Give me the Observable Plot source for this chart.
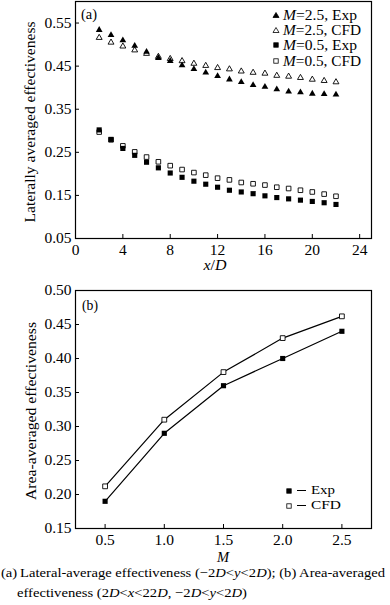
<!DOCTYPE html>
<html><head><meta charset="utf-8">
<script src="https://cdn.jsdelivr.net/npm/d3@7"></script>
<script src="https://cdn.jsdelivr.net/npm/@observablehq/plot@0.6"></script>
<style>
body{margin:0;background:#fff;font-family:"Liberation Serif","Times New Roman",serif;}
#wrap{position:relative;width:390px;height:605px;overflow:hidden;}
.abs{position:absolute;white-space:nowrap;color:#000;line-height:0.85;}
</style></head>
<body><div id="wrap"></div>
<script>
// ---- data (a): laterally averaged effectiveness vs x/D
const xD = [2,3,4,5,6,7,8,9,10,11,12,13,14,15,16,17,18,19,20,21,22];
const m25Exp = [0.534,0.522,0.510,0.497,0.483,0.469,0.462,0.452,0.443,0.435,0.427,0.419,0.413,0.406,0.402,0.396,0.391,0.389,0.386,0.385,0.384];
const m25CFD = [0.516,0.505,0.496,0.487,0.479,0.472,0.467,0.462,0.456,0.451,0.446,0.443,0.438,0.435,0.433,0.428,0.426,0.423,0.419,0.416,0.413];
const m05Exp = [0.302,0.280,0.259,0.243,0.227,0.214,0.202,0.192,0.183,0.176,0.169,0.162,0.158,0.154,0.149,0.145,0.142,0.139,0.136,0.133,0.129];
const m05CFD = [0.297,0.279,0.265,0.251,0.239,0.228,0.219,0.210,0.203,0.197,0.190,0.186,0.180,0.177,0.174,0.169,0.166,0.162,0.158,0.153,0.148];
const xTicksA = [0,4,8,12,16,20,24];
const yTicksA = [0.05,0.15,0.25,0.35,0.45,0.55];
// ---- data (b): area-averaged effectiveness vs M
const mVals = [0.5,1.0,1.5,2.0,2.5];
const areaExp = [0.19,0.29,0.36,0.40,0.44];
const areaCFD = [0.212,0.31,0.38,0.43,0.462];
const xTicksB = [0.5,1.0,1.5,2.0,2.5];
const yTicksB = [0.15,0.20,0.25,0.30,0.35,0.40,0.45,0.50];

const wrap = document.getElementById("wrap");
const FONT = "Liberation Serif";
const TICKFS = 15.5;

function toRows(xs, ys){ return xs.map((x,i)=>({x, y: ys[i]})); }

// ---------- Chart (a)
const hA = 275, mtA = 1, mbA = 37, mlA = 75, mrA = 19;
const plotHA = hA - mtA - mbA, plotWA = 390 - mlA - mrA;
const chartA = Plot.plot({
  width: 390, height: hA,
  marginTop: mtA, marginBottom: mbA, marginLeft: mlA, marginRight: mrA,
  style: {fontFamily: FONT, fontSize: TICKFS + "px", color: "#000", background: "#fff", overflow: "visible"},
  x: {domain: [0, 25]},
  y: {domain: [0.05, 0.6]},
  marks: [
    Plot.axisX({ticks: xTicksA, tickSize: 0, tickPadding: 5, tickFormat: d=>String(d), label: null, fontSize: TICKFS}),
    Plot.axisY({ticks: yTicksA, tickSize: 0, tickPadding: 4, tickFormat: d3.format(".2f"), label: null, fontSize: TICKFS}),
    Plot.tickX(xTicksA.filter(d=>d>0), {x: d=>d, stroke: "#000", strokeWidth: 1, insetTop: plotHA - 4}),
    Plot.tickY(yTicksA.filter(d=>d>0.05), {y: d=>d, stroke: "#000", strokeWidth: 1, insetRight: plotWA - 4}),
    Plot.dot(toRows(xD, m05CFD), {x:"x", y:"y", symbol:"square", r:2.6, fill:"#fff", stroke:"#000", strokeWidth:0.9}),
    Plot.dot(toRows(xD, m05Exp), {x:"x", y:"y", symbol:"square", r:2.9, fill:"#000", stroke:"none"}),
    Plot.dot(toRows(xD, m25CFD), {x:"x", y:"y", symbol:"triangle", r:2.2, fill:"#fff", stroke:"#000", strokeWidth:0.9}),
    Plot.dot(toRows(xD, m25Exp), {x:"x", y:"y", symbol:"triangle", r:2.5, fill:"#000", stroke:"none"}),
    Plot.frame({stroke: "#000", strokeWidth: 1.2})
  ]
});
chartA.style.position = "absolute"; chartA.style.left = "0px"; chartA.style.top = "0px";
wrap.appendChild(chartA);

// ---------- Chart (b)
const topB = 275, hB = 290, mtB = 15, mbB = 37, mlB = 75, mrB = 19;
const plotHB = hB - mtB - mbB, plotWB = 390 - mlB - mrB;
const chartB = Plot.plot({
  width: 390, height: hB,
  marginTop: mtB, marginBottom: mbB, marginLeft: mlB, marginRight: mrB,
  style: {fontFamily: FONT, fontSize: TICKFS + "px", color: "#000", background: "transparent", overflow: "visible"},
  x: {domain: [0.25, 2.75]},
  y: {domain: [0.15, 0.5]},
  marks: [
    Plot.axisX({ticks: xTicksB, tickSize: 0, tickPadding: 5, tickFormat: d3.format(".1f"), label: null, fontSize: TICKFS}),
    Plot.axisY({ticks: yTicksB, tickSize: 0, tickPadding: 4, tickFormat: d3.format(".2f"), label: null, fontSize: TICKFS}),
    Plot.tickX(xTicksB, {x: d=>d, stroke: "#000", strokeWidth: 1, insetTop: plotHB - 4}),
    Plot.tickY(yTicksB.filter(d=>d>0.15 && d<0.5), {y: d=>d, stroke: "#000", strokeWidth: 1, insetRight: plotWB - 4}),
    Plot.line(toRows(mVals, areaCFD), {x:"x", y:"y", stroke:"#000", strokeWidth:1.2}),
    Plot.line(toRows(mVals, areaExp), {x:"x", y:"y", stroke:"#000", strokeWidth:1.2}),
    Plot.dot(toRows(mVals, areaCFD), {x:"x", y:"y", symbol:"square", r:2.7, fill:"#fff", stroke:"#000", strokeWidth:0.9}),
    Plot.dot(toRows(mVals, areaExp), {x:"x", y:"y", symbol:"square", r:2.9, fill:"#000", stroke:"none"}),
    Plot.frame({stroke: "#000", strokeWidth: 1.2})
  ]
});
chartB.style.position = "absolute"; chartB.style.left = "0px"; chartB.style.top = topB + "px";
wrap.appendChild(chartB);

// ---------- Text overlays (horizontally stretched to match the reference's text widths)
function add(html, opts){
  const d = document.createElement("div");
  d.className = "abs";
  d.innerHTML = html;
  d.style.fontSize = (opts.fs || 14) + "px";
  wrap.appendChild(d);
  const w = d.getBoundingClientRect().width;
  const s = opts.width ? opts.width / w : 1;
  if (opts.rotate) {
    d.style.left = opts.cx + "px"; d.style.top = opts.cy + "px";
    d.style.transform = `translate(-50%,-50%) rotate(-90deg) scaleX(${s})`;
  } else if (opts.cx !== undefined) {
    d.style.left = opts.cx + "px"; d.style.top = opts.cy + "px";
    d.style.transform = `translate(-50%,-50%) scaleX(${s})`;
  } else {
    d.style.left = opts.x + "px"; d.style.top = (opts.cy - d.getBoundingClientRect().height/2) + "px";
    d.style.transformOrigin = "0 50%";
    d.style.transform = `scaleX(${s})`;
  }
  return d;
}
const tri = (fill)=>`<svg width="8" height="8" style="position:absolute"><polygon points="4,1.5 7,6.5 1,6.5" fill="${fill}" stroke="#000" stroke-width="0.8"/></svg>`;
const sq = (fill)=>`<svg width="8" height="8" style="position:absolute"><rect x="1.8" y="1.8" width="4.4" height="4.4" fill="${fill}" stroke="#000" stroke-width="0.8"/></svg>`;
function addSym(svg, cx, cy){
  const d = document.createElement("div");
  d.className = "abs";
  d.style.left = (cx-4) + "px"; d.style.top = (cy-4) + "px";
  d.innerHTML = svg;
  wrap.appendChild(d);
}
function addLine(x1, x2, y){
  const d = document.createElement("div");
  d.className = "abs";
  Object.assign(d.style, {left: x1+"px", top: (y-0.6)+"px", width: (x2-x1)+"px", height: "1.3px", background: "#000"});
  wrap.appendChild(d);
}

// y-axis titles
add("Laterally averaged effectiveness", {fs: 14.5, rotate: true, cx: 30, cy: 122, width: 201});
add("Area-averaged effectiveness", {fs: 14.5, rotate: true, cx: 31, cy: 411, width: 178});
// x-axis titles
add("<i>x</i>/<i>D</i>", {fs: 14.5, cx: 215, cy: 265, width: 23});
add("<i>M</i>", {fs: 14.5, cx: 223, cy: 557});
// panel labels
add("(a)", {fs: 14.5, x: 81, cy: 14, width: 16});
add("(b)", {fs: 14.5, x: 82, cy: 305, width: 16});

// legend (a)
const legA = [
  {sym: tri("#000"), lab: "<i>M</i>=2.5, Exp", w: 74},
  {sym: tri("#fff"), lab: "<i>M</i>=2.5, CFD", w: 78},
  {sym: sq("#000"),  lab: "<i>M</i>=0.5, Exp", w: 74},
  {sym: sq("#fff"),  lab: "<i>M</i>=0.5, CFD", w: 78}
];
const legAy = [15, 30, 45, 61];
legA.forEach((it,i)=>{
  addSym(it.sym, 276, legAy[i]);
  add(it.lab, {fs: 14.5, x: 283, cy: legAy[i], width: it.w});
});
// legend (b)
const legBy = [490.5, 505.5];
[{sym: sq("#000"), lab: "Exp", w: 24}, {sym: sq("#fff"), lab: "CFD", w: 30}].forEach((it,i)=>{
  addSym(it.sym, 289, legBy[i]);
  addLine(297, 306, legBy[i]);
  add(it.lab, {fs: 12.5, x: 311, cy: legBy[i], width: it.w});
});

// caption
add("(a)&thinsp;Lateral-average effectiveness (−2<i>D</i>&lt;<i>y</i>&lt;2<i>D</i>); (b) Area-averaged", {fs: 13.5, x: 1, cy: 573, width: 384});
add("effectiveness (2<i>D</i>&lt;<i>x</i>&lt;22<i>D</i>, −2<i>D</i>&lt;<i>y</i>&lt;2<i>D</i>)", {fs: 13.5, x: 17, cy: 593, width: 230});
</script></body></html>
